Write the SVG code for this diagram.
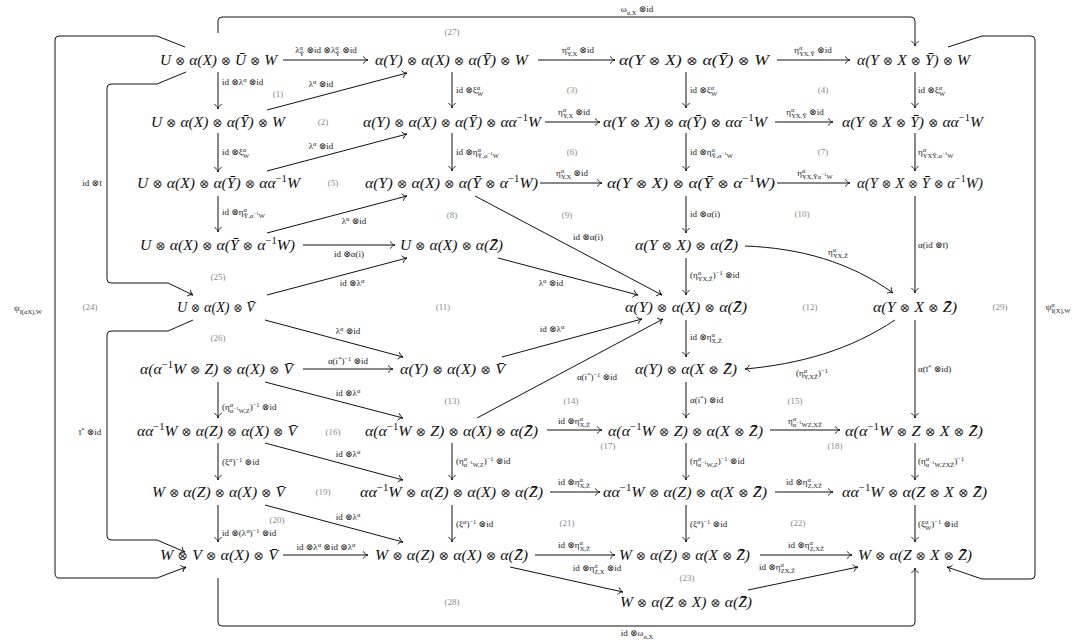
<svg xmlns="http://www.w3.org/2000/svg" width="1076" height="643" viewBox="0 0 1076 643">
<style>
.n{font-family:"Liberation Serif","DejaVu Serif",serif;font-size:15.5px;font-style:italic;fill:#111;text-anchor:middle}
.o{font-family:"DejaVu Serif",serif;font-style:normal;font-size:12.5px;fill:#333}
.u{font-size:10.5px;font-style:normal;baseline-shift:6px}
.l{font-family:"Liberation Serif","DejaVu Serif",serif;font-size:9px;fill:#222}
.c{text-anchor:middle}
.p{font-size:6.5px;baseline-shift:3.5px}
.b{font-size:6.5px;baseline-shift:-2.5px}
.q{font-size:5px;baseline-shift:2.5px}
.r{font-family:"Liberation Serif","DejaVu Serif",serif;font-size:9px;fill:#8a8a8a;text-anchor:middle}
.e{fill:none;stroke:#111;stroke-width:1;marker-end:url(#ah)}
</style>
<defs>
<marker id="ah" markerUnits="userSpaceOnUse" markerWidth="10" markerHeight="10" viewBox="-6 -5 7 10" refX="0" refY="0" orient="auto" overflow="visible"><path d="M-4.5,-3.3 C-3.6,-1.3 -1.5,-0.3 0,0 C-1.5,0.3 -3.6,1.3 -4.5,3.3" fill="none" stroke="#111" stroke-width="0.9" stroke-linecap="round"/></marker>
</defs>
<rect width="1076" height="643" fill="#fff"/>

<g id="connectors">
<path class="e" d="M218,72 L218,109"/>
<path class="e" d="M218,133 L218,172"/>
<path class="e" d="M218,196 L218,232"/>
<path class="e" d="M218,382 L218,418"/>
<path class="e" d="M218,443 L218,480"/>
<path class="e" d="M218,505 L218,542"/>
<path class="e" d="M452,72 L452,108"/>
<path class="e" d="M452,133 L452,171"/>
<path class="e" d="M452,443 L452,480"/>
<path class="e" d="M452,505 L452,542"/>
<path class="e" d="M686,72 L686,108"/>
<path class="e" d="M686,133 L686,171"/>
<path class="e" d="M686,196 L686,233"/>
<path class="e" d="M686,258 L686,295"/>
<path class="e" d="M686,320 L686,357"/>
<path class="e" d="M686,382 L686,418"/>
<path class="e" d="M686,443 L686,480"/>
<path class="e" d="M686,505 L686,542"/>
<path class="e" d="M915,72 L915,108"/>
<path class="e" d="M915,133 L915,171"/>
<path class="e" d="M915,196 L915,293"/>
<path class="e" d="M915,320 L915,418"/>
<path class="e" d="M915,443 L915,480"/>
<path class="e" d="M915,505 L915,542"/>
<path class="e" d="M283,60 L368,60"/>
<path class="e" d="M538,60 L615,60"/>
<path class="e" d="M777,60 L850,60"/>
<path class="e" d="M545,122 L600,122"/>
<path class="e" d="M775,122 L833,122"/>
<path class="e" d="M540,183 L602,183"/>
<path class="e" d="M777,183 L850,183"/>
<path class="e" d="M303,245 L395,245"/>
<path class="e" d="M303,369 L393,369"/>
<path class="e" d="M547,430 L602,430"/>
<path class="e" d="M770,430 L840,430"/>
<path class="e" d="M550,492 L600,492"/>
<path class="e" d="M775,492 L833,492"/>
<path class="e" d="M283,555 L368,555"/>
<path class="e" d="M535,555 L615,555"/>
<path class="e" d="M760,555 L852,555"/>
<path class="e" d="M267,110 L407,73"/>
<path class="e" d="M267,171 L407,134"/>
<path class="e" d="M267,233 L407,196"/>
<path class="e" d="M475,196 L662,295"/>
<path class="e" d="M267,295 L407,258"/>
<path class="e" d="M498,258 L638,295"/>
<path class="e" d="M265,320 L403,357"/>
<path class="e" d="M502,357 L642,319"/>
<path class="e" d="M477,418 L663,319"/>
<path class="e" d="M265,382 L403,418"/>
<path class="e" d="M265,443 L403,480"/>
<path class="e" d="M265,505 L403,542"/>
<path class="e" d="M510,567 L623,592"/>
<path class="e" d="M748,590 L858,567"/>
<path class="e" d="M745,246 C800,248 850,262 893,293"/>
<path class="e" d="M895,320 C850,350 800,364 745,369"/>
<path class="e" d="M185,47 L157,36 L59,36 Q55,36 55,40 L55,573 Q55,578 59,578 L157,578 L186,567"/>
<path class="e" d="M186,72 L157,84 L111,84 Q107,84 107,88 L107,279 Q107,283 111,283 L168,283 L193,295"/>
<path class="e" d="M193,320 L168,331 L111,331 Q107,331 107,335 L107,536 Q107,540 111,540 L157,540 L185,552"/>
<path class="e" d="M948,47 L982,36 L1031,36 Q1035,36 1035,40 L1035,575 Q1035,579 1031,579 L982,579 L947,567"/>
<path class="e" d="M218,33 L218,21 Q218,17 222,17 L911,17 Q915,17 915,21 L915,46"/>
<path class="e" d="M218,578 L218,622 Q218,626 222,626 L911,626 Q915,626 915,622 L915,568"/>
</g>

<g id="edge-labels">
<text class="l c" x="326" y="53">λ<tspan class="p">α</tspan><tspan class="b" dx="-3.3">Ȳ</tspan> ⊗id ⊗λ<tspan class="p">α</tspan><tspan class="b" dx="-3.3">Ȳ</tspan> ⊗id</text>
<text class="l c" x="578" y="53">η<tspan class="p">α</tspan><tspan class="b" dx="-3.3">Y,X</tspan> ⊗id</text>
<text class="l c" x="813" y="53">η<tspan class="p">α</tspan><tspan class="b" dx="-3.3">YX,Ȳ</tspan> ⊗id</text>
<text class="l c" x="574" y="115">η<tspan class="p">α</tspan><tspan class="b" dx="-3.3">Y,X</tspan> ⊗id</text>
<text class="l c" x="805" y="115">η<tspan class="p">α</tspan><tspan class="b" dx="-3.3">YX,Ȳ</tspan> ⊗id</text>
<text class="l c" x="572" y="176">η<tspan class="p">α</tspan><tspan class="b" dx="-3.3">Y,X</tspan> ⊗id</text>
<text class="l c" x="815" y="176">η<tspan class="p">α</tspan><tspan class="b" dx="-3.3">YX,Ȳα<tspan class="q">−1</tspan>W</tspan></text>
<text class="l c" x="349" y="257">id ⊗α(i)</text>
<text class="l c" x="348" y="364">α(i<tspan class="p">*</tspan>)<tspan class="p">−1</tspan> ⊗id</text>
<text class="l c" x="574" y="424">id ⊗η<tspan class="p">α</tspan><tspan class="b" dx="-3.3">X,Z̄</tspan></text>
<text class="l c" x="805" y="424">η<tspan class="p">α</tspan><tspan class="b" dx="-3.3">α<tspan class="q">−1</tspan>WZ,XZ̄</tspan></text>
<text class="l c" x="574" y="485">id ⊗η<tspan class="p">α</tspan><tspan class="b" dx="-3.3">X,Z̄</tspan></text>
<text class="l c" x="804" y="485">id ⊗η<tspan class="p">α</tspan><tspan class="b" dx="-3.3">Z,XZ̄</tspan></text>
<text class="l c" x="326" y="550">id ⊗λ<tspan class="p">α</tspan> ⊗id ⊗λ<tspan class="p">α</tspan></text>
<text class="l c" x="574" y="548">id ⊗η<tspan class="p">α</tspan><tspan class="b" dx="-3.3">X,Z̄</tspan></text>
<text class="l c" x="806" y="548">id ⊗η<tspan class="p">α</tspan><tspan class="b" dx="-3.3">Z,XZ̄</tspan></text>
<text class="l c" x="597" y="571">id ⊗η<tspan class="p">α</tspan><tspan class="b" dx="-3.3">Z,X</tspan> ⊗id</text>
<text class="l c" x="777" y="570">id ⊗η<tspan class="p">α</tspan><tspan class="b" dx="-3.3">ZX,Z̄</tspan></text>

<text class="l" x="222" y="85">id ⊗λ<tspan class="p">α</tspan> ⊗id</text>
<text class="l" x="222" y="155">id ⊗ξ<tspan class="p">α</tspan><tspan class="b" dx="-3.3">W</tspan></text>
<text class="l" x="222" y="215">id ⊗η<tspan class="p">α</tspan><tspan class="b" dx="-3.3">Ȳ,α<tspan class="q">−1</tspan>W</tspan></text>
<text class="l" x="222" y="410">(η<tspan class="p">α</tspan><tspan class="b" dx="-3.3">α<tspan class="q">−1</tspan>W,Z</tspan>)<tspan class="p">−1</tspan> ⊗id</text>
<text class="l" x="222" y="465">(ξ<tspan class="p">α</tspan>)<tspan class="p">−1</tspan> ⊗id</text>
<text class="l" x="222" y="536">id ⊗(λ<tspan class="p">α</tspan>)<tspan class="p">−1</tspan> ⊗id</text>

<text class="l" x="456" y="93">id ⊗ξ<tspan class="p">α</tspan><tspan class="b" dx="-3.3">W</tspan></text>
<text class="l" x="456" y="155">id ⊗η<tspan class="p">α</tspan><tspan class="b" dx="-3.3">Ȳ,α<tspan class="q">−1</tspan>W</tspan></text>
<text class="l" x="456" y="464">(η<tspan class="p">α</tspan><tspan class="b" dx="-3.3">α<tspan class="q">−1</tspan>W,Z</tspan>)<tspan class="p">−1</tspan> ⊗id</text>
<text class="l" x="456" y="527">(ξ<tspan class="p">α</tspan>)<tspan class="p">−1</tspan> ⊗id</text>

<text class="l" x="690" y="93">id ⊗ξ<tspan class="p">α</tspan><tspan class="b" dx="-3.3">W</tspan></text>
<text class="l" x="690" y="155">id ⊗η<tspan class="p">α</tspan><tspan class="b" dx="-3.3">Ȳ,α<tspan class="q">−1</tspan>W</tspan></text>
<text class="l" x="690" y="217">id ⊗α(i)</text>
<text class="l" x="690" y="278">(η<tspan class="p">α</tspan><tspan class="b" dx="-3.3">YX,Z̄</tspan>)<tspan class="p">−1</tspan> ⊗id</text>
<text class="l" x="690" y="340">id ⊗η<tspan class="p">α</tspan><tspan class="b" dx="-3.3">X,Z̄</tspan></text>
<text class="l" x="690" y="403">α(i<tspan class="p">*</tspan>) ⊗id</text>
<text class="l" x="690" y="464">(η<tspan class="p">α</tspan><tspan class="b" dx="-3.3">α<tspan class="q">−1</tspan>W,Z</tspan>)<tspan class="p">−1</tspan> ⊗id</text>
<text class="l" x="690" y="527">(ξ<tspan class="p">α</tspan>)<tspan class="p">−1</tspan> ⊗id</text>

<text class="l" x="918" y="93">id ⊗ξ<tspan class="p">α</tspan><tspan class="b" dx="-3.3">W</tspan></text>
<text class="l" x="918" y="155">η<tspan class="p">α</tspan><tspan class="b" dx="-3.3">YXȲ,α<tspan class="q">−1</tspan>W</tspan></text>
<text class="l" x="918" y="248">α(id ⊗ī)</text>
<text class="l" x="918" y="372">α(ī<tspan class="p">*</tspan> ⊗id)</text>
<text class="l" x="918" y="464">(η<tspan class="p">α</tspan><tspan class="b" dx="-3.3">α<tspan class="q">−1</tspan>W,ZXZ̄</tspan>)<tspan class="p">−1</tspan></text>
<text class="l" x="918" y="527">(ξ<tspan class="p">α</tspan><tspan class="b" dx="-3.3">W</tspan>)<tspan class="p">−1</tspan> ⊗id</text>

<text class="l c" x="321" y="87">λ<tspan class="p">α</tspan> ⊗id</text>
<text class="l c" x="321" y="149">λ<tspan class="p">α</tspan> ⊗id</text>
<text class="l c" x="354" y="224">λ<tspan class="p">α</tspan> ⊗id</text>
<text class="l c" x="588" y="240">id ⊗α(i)</text>
<text class="l c" x="352" y="286">id ⊗λ<tspan class="p">α</tspan></text>
<text class="l c" x="551" y="286">λ<tspan class="p">α</tspan> ⊗id</text>
<text class="l c" x="838" y="255">η<tspan class="p">α</tspan><tspan class="b" dx="-3.3">YX,Z̄</tspan></text>
<text class="l c" x="348" y="334">λ<tspan class="p">α</tspan> ⊗id</text>
<text class="l c" x="552" y="332">id ⊗λ<tspan class="p">α</tspan></text>
<text class="l c" x="812" y="376">(η<tspan class="p">α</tspan><tspan class="b" dx="-3.3">Y,XZ̄</tspan>)<tspan class="p">−1</tspan></text>
<text class="l c" x="597" y="380">α(i<tspan class="p">*</tspan>)<tspan class="p">−1</tspan> ⊗id</text>
<text class="l c" x="348" y="396">id ⊗λ<tspan class="p">α</tspan></text>
<text class="l c" x="348" y="457">id ⊗λ<tspan class="p">α</tspan></text>
<text class="l c" x="348" y="520">id ⊗λ<tspan class="p">α</tspan></text>
<text class="l c" x="92" y="186">id ⊗ī</text>
<text class="l c" x="90" y="435">ī<tspan class="p">*</tspan> ⊗id</text>
<text class="l c" x="28" y="311">ψ<tspan class="b">I(αX),W</tspan></text>
<text class="l c" x="1058" y="310">ψ<tspan class="p">α</tspan><tspan class="b" dx="-3.3">I(X),W</tspan></text>
<text class="l c" x="637" y="12">ω<tspan class="b">α,X</tspan> ⊗id</text>
<text class="l c" x="637" y="636">id ⊗ω<tspan class="b">α,X</tspan></text>
</g>

<g id="regions">
<text class="r" x="278" y="97">(1)</text>
<text class="r" x="323" y="125">(2)</text>
<text class="r" x="572" y="93">(3)</text>
<text class="r" x="823" y="93">(4)</text>
<text class="r" x="333" y="186">(5)</text>
<text class="r" x="572" y="155">(6)</text>
<text class="r" x="823" y="155">(7)</text>
<text class="r" x="452" y="218">(8)</text>
<text class="r" x="567" y="218">(9)</text>
<text class="r" x="802" y="217">(10)</text>
<text class="r" x="443" y="310">(11)</text>
<text class="r" x="810" y="310">(12)</text>
<text class="r" x="452" y="404">(13)</text>
<text class="r" x="571" y="404">(14)</text>
<text class="r" x="795" y="404">(15)</text>
<text class="r" x="333" y="435">(16)</text>
<text class="r" x="608" y="449">(17)</text>
<text class="r" x="835" y="449">(18)</text>
<text class="r" x="323" y="495">(19)</text>
<text class="r" x="277" y="523">(20)</text>
<text class="r" x="567" y="526">(21)</text>
<text class="r" x="798" y="526">(22)</text>
<text class="r" x="687" y="581">(23)</text>
<text class="r" x="90" y="310">(24)</text>
<text class="r" x="218" y="280">(25)</text>
<text class="r" x="218" y="341">(26)</text>
<text class="r" x="452" y="35">(27)</text>
<text class="r" x="452" y="605">(28)</text>
<text class="r" x="1000" y="310">(29)</text>
</g>

<g id="n-A1"><text class="n" x="218.5" y="65" textLength="117" lengthAdjust="spacingAndGlyphs">U <tspan class="o">⊗</tspan> α(X) <tspan class="o">⊗</tspan> Ū <tspan class="o">⊗</tspan> W</text></g>
<g id="n-A2"><text class="n" x="451.5" y="65" textLength="153" lengthAdjust="spacingAndGlyphs">α(Y) <tspan class="o">⊗</tspan> α(X) <tspan class="o">⊗</tspan> α(Ȳ) <tspan class="o">⊗</tspan> W</text></g>
<g id="n-A3"><text class="n" x="694" y="65" textLength="150" lengthAdjust="spacingAndGlyphs">α(Y <tspan class="o">⊗</tspan> X) <tspan class="o">⊗</tspan> α(Ȳ) <tspan class="o">⊗</tspan> W</text></g>
<g id="n-A4"><text class="n" x="913.5" y="65" textLength="113" lengthAdjust="spacingAndGlyphs">α(Y <tspan class="o">⊗</tspan> X <tspan class="o">⊗</tspan> Ȳ) <tspan class="o">⊗</tspan> W</text></g>
<g id="n-B1"><text class="n" x="218" y="127" textLength="134" lengthAdjust="spacingAndGlyphs">U <tspan class="o">⊗</tspan> α(X) <tspan class="o">⊗</tspan> α(Ȳ) <tspan class="o">⊗</tspan> W</text></g>
<g id="n-B2"><text class="n" x="452" y="127" textLength="178" lengthAdjust="spacingAndGlyphs">α(Y) <tspan class="o">⊗</tspan> α(X) <tspan class="o">⊗</tspan> α(Ȳ) <tspan class="o">⊗</tspan> αα<tspan class="u">−1</tspan>W</text></g>
<g id="n-B3"><text class="n" x="685" y="127" textLength="164" lengthAdjust="spacingAndGlyphs">α(Y <tspan class="o">⊗</tspan> X) <tspan class="o">⊗</tspan> α(Ȳ) <tspan class="o">⊗</tspan> αα<tspan class="u">−1</tspan>W</text></g>
<g id="n-B4"><text class="n" x="912.5" y="127" textLength="141" lengthAdjust="spacingAndGlyphs">α(Y <tspan class="o">⊗</tspan> X <tspan class="o">⊗</tspan> Ȳ) <tspan class="o">⊗</tspan> αα<tspan class="u">−1</tspan>W</text></g>
<g id="n-C1"><text class="n" x="218.5" y="188" textLength="163" lengthAdjust="spacingAndGlyphs">U <tspan class="o">⊗</tspan> α(X) <tspan class="o">⊗</tspan> α(Ȳ) <tspan class="o">⊗</tspan> αα<tspan class="u">−1</tspan>W</text></g>
<g id="n-C2"><text class="n" x="451.5" y="188" textLength="173" lengthAdjust="spacingAndGlyphs">α(Y) <tspan class="o">⊗</tspan> α(X) <tspan class="o">⊗</tspan> α(Ȳ <tspan class="o">⊗</tspan> α<tspan class="u">−1</tspan>W)</text></g>
<g id="n-C3"><text class="n" x="691" y="188" textLength="168" lengthAdjust="spacingAndGlyphs">α(Y <tspan class="o">⊗</tspan> X) <tspan class="o">⊗</tspan> α(Ȳ <tspan class="o">⊗</tspan> α<tspan class="u">−1</tspan>W)</text></g>
<g id="n-C4"><text class="n" x="920" y="188" textLength="126" lengthAdjust="spacingAndGlyphs">α(Y <tspan class="o">⊗</tspan> X <tspan class="o">⊗</tspan> Ȳ <tspan class="o">⊗</tspan> α<tspan class="u">−1</tspan>W)</text></g>
<g id="n-D1"><text class="n" x="217.5" y="250" textLength="155" lengthAdjust="spacingAndGlyphs">U <tspan class="o">⊗</tspan> α(X) <tspan class="o">⊗</tspan> α(Ȳ <tspan class="o">⊗</tspan> α<tspan class="u">−1</tspan>W)</text></g>
<g id="n-D2"><text class="n" x="451.5" y="250" textLength="103" lengthAdjust="spacingAndGlyphs">U <tspan class="o">⊗</tspan> α(X) <tspan class="o">⊗</tspan> α(Z̄)</text></g>
<g id="n-D3"><text class="n" x="686.5" y="250" textLength="103" lengthAdjust="spacingAndGlyphs">α(Y <tspan class="o">⊗</tspan> X) <tspan class="o">⊗</tspan> α(Z̄)</text></g>
<g id="n-E1"><text class="n" x="216" y="312" textLength="78" lengthAdjust="spacingAndGlyphs">U <tspan class="o">⊗</tspan> α(X) <tspan class="o">⊗</tspan> V̄</text></g>
<g id="n-M"><text class="n" x="686" y="312" textLength="122" lengthAdjust="spacingAndGlyphs">α(Y) <tspan class="o">⊗</tspan> α(X) <tspan class="o">⊗</tspan> α(Z̄)</text></g>
<g id="n-E4"><text class="n" x="915" y="312" textLength="84" lengthAdjust="spacingAndGlyphs">α(Y <tspan class="o">⊗</tspan> X <tspan class="o">⊗</tspan> Z̄)</text></g>
<g id="n-F3"><text class="n" x="686" y="374" textLength="102" lengthAdjust="spacingAndGlyphs">α(Y) <tspan class="o">⊗</tspan> α(X <tspan class="o">⊗</tspan> Z̄)</text></g>
<g id="n-G1"><text class="n" x="216.5" y="374" textLength="153" lengthAdjust="spacingAndGlyphs">α(α<tspan class="u">−1</tspan>W <tspan class="o">⊗</tspan> Z) <tspan class="o">⊗</tspan> α(X) <tspan class="o">⊗</tspan> V̄</text></g>
<g id="n-G2"><text class="n" x="452.5" y="374" textLength="105" lengthAdjust="spacingAndGlyphs">α(Y) <tspan class="o">⊗</tspan> α(X) <tspan class="o">⊗</tspan> V̄</text></g>
<g id="n-H2"><text class="n" x="451.5" y="436" textLength="173" lengthAdjust="spacingAndGlyphs">α(α<tspan class="u">−1</tspan>W <tspan class="o">⊗</tspan> Z) <tspan class="o">⊗</tspan> α(X) <tspan class="o">⊗</tspan> α(Z̄)</text></g>
<g id="n-H3"><text class="n" x="685.5" y="436" textLength="155" lengthAdjust="spacingAndGlyphs">α(α<tspan class="u">−1</tspan>W <tspan class="o">⊗</tspan> Z) <tspan class="o">⊗</tspan> α(X <tspan class="o">⊗</tspan> Z̄)</text></g>
<g id="n-H4"><text class="n" x="914" y="436" textLength="138" lengthAdjust="spacingAndGlyphs">α(α<tspan class="u">−1</tspan>W <tspan class="o">⊗</tspan> Z <tspan class="o">⊗</tspan> X <tspan class="o">⊗</tspan> Z̄)</text></g>
<g id="n-I1"><text class="n" x="217" y="436" textLength="160" lengthAdjust="spacingAndGlyphs">αα<tspan class="u">−1</tspan>W <tspan class="o">⊗</tspan> α(Z) <tspan class="o">⊗</tspan> α(X) <tspan class="o">⊗</tspan> V̄</text></g>
<g id="n-J2"><text class="n" x="451.5" y="497" textLength="183" lengthAdjust="spacingAndGlyphs">αα<tspan class="u">−1</tspan>W <tspan class="o">⊗</tspan> α(Z) <tspan class="o">⊗</tspan> α(X) <tspan class="o">⊗</tspan> α(Z̄)</text></g>
<g id="n-J3"><text class="n" x="685" y="497" textLength="164" lengthAdjust="spacingAndGlyphs">αα<tspan class="u">−1</tspan>W <tspan class="o">⊗</tspan> α(Z) <tspan class="o">⊗</tspan> α(X <tspan class="o">⊗</tspan> Z̄)</text></g>
<g id="n-J4"><text class="n" x="914.5" y="497" textLength="145" lengthAdjust="spacingAndGlyphs">αα<tspan class="u">−1</tspan>W <tspan class="o">⊗</tspan> α(Z <tspan class="o">⊗</tspan> X <tspan class="o">⊗</tspan> Z̄)</text></g>
<g id="n-K1"><text class="n" x="218.5" y="497" textLength="133" lengthAdjust="spacingAndGlyphs">W <tspan class="o">⊗</tspan> α(Z) <tspan class="o">⊗</tspan> α(X) <tspan class="o">⊗</tspan> V̄</text></g>
<g id="n-L1"><text class="n" x="219" y="560" textLength="118" lengthAdjust="spacingAndGlyphs">W <tspan class="o">⊗</tspan> V <tspan class="o">⊗</tspan> α(X) <tspan class="o">⊗</tspan> V̄</text></g>
<g id="n-L2"><text class="n" x="451.5" y="560" textLength="153" lengthAdjust="spacingAndGlyphs">W <tspan class="o">⊗</tspan> α(Z) <tspan class="o">⊗</tspan> α(X) <tspan class="o">⊗</tspan> α(Z̄)</text></g>
<g id="n-L3"><text class="n" x="684.5" y="560" textLength="131" lengthAdjust="spacingAndGlyphs">W <tspan class="o">⊗</tspan> α(Z) <tspan class="o">⊗</tspan> α(X <tspan class="o">⊗</tspan> Z̄)</text></g>
<g id="n-L4"><text class="n" x="915" y="560" textLength="114" lengthAdjust="spacingAndGlyphs">W <tspan class="o">⊗</tspan> α(Z <tspan class="o">⊗</tspan> X <tspan class="o">⊗</tspan> Z̄)</text></g>
<g id="n-N"><text class="n" x="686" y="607" textLength="132" lengthAdjust="spacingAndGlyphs">W <tspan class="o">⊗</tspan> α(Z <tspan class="o">⊗</tspan> X) <tspan class="o">⊗</tspan> α(Z̄)</text></g>
</svg>
